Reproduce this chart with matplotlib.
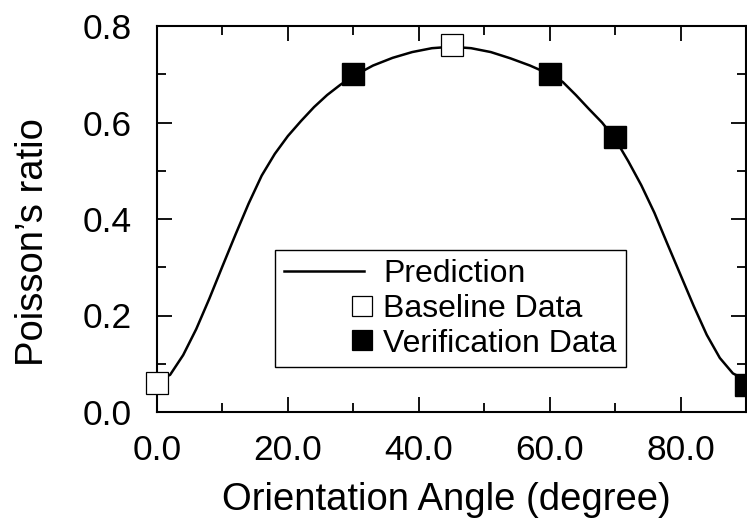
import matplotlib
matplotlib.use("Agg")
import matplotlib.pyplot as plt
from matplotlib.lines import Line2D
from matplotlib.ticker import MultipleLocator, FormatStrFormatter
from matplotlib.legend_handler import HandlerLine2D

plt.rcParams['font.family'] = ['Liberation Sans', 'DejaVu Sans']

# Prediction curve
pred_x = [0, 2, 4, 6, 8, 10, 12, 14, 16, 18, 20, 22, 24, 26, 28, 30, 33, 36,
          39, 42, 45, 48, 51, 54, 57, 60, 62, 64, 66, 68, 70, 72, 74, 76, 78,
          80, 82, 84, 86, 88, 90]
pred_y = [0.065, 0.077, 0.118, 0.172, 0.235, 0.302, 0.368, 0.432, 0.490,
          0.535, 0.572, 0.603, 0.632, 0.657, 0.678, 0.696, 0.718, 0.734,
          0.746, 0.754, 0.757, 0.754, 0.746, 0.733, 0.718, 0.700, 0.684,
          0.657, 0.628, 0.600, 0.566, 0.520, 0.470, 0.413, 0.348, 0.284,
          0.220, 0.160, 0.112, 0.080, 0.066]

# measured points
baseline_x = [0, 45]
baseline_y = [0.06, 0.76]
verif_x = [30, 60, 70, 90]
verif_y = [0.70, 0.70, 0.57, 0.055]

x_ticks = [0, 20, 40, 60, 80]
y_ticks = [0.0, 0.2, 0.4, 0.6, 0.8]


class RightMarkerHandler(HandlerLine2D):
    """Single square marker sitting at the right end of the handle slot."""

    def create_artists(self, legend, orig_handle, xdescent, ydescent,
                       width, height, fontsize, trans):
        y = (height - ydescent) / 2
        m = Line2D([width - xdescent - 0.05 * fontsize], [y], linestyle='none',
                   marker='s', markersize=14,
                   markerfacecolor=orig_handle.get_markerfacecolor(),
                   markeredgecolor='black', markeredgewidth=0.9)
        m.set_transform(trans)
        return [m]


fig = plt.figure(figsize=(7.47, 5.25), dpi=100)
ax = fig.add_axes([157 / 747, 1 - 412 / 525, (746 - 157) / 747, (412 - 26) / 525])

ax.plot(pred_x, pred_y, color='black', linewidth=1.8, label='Prediction',
        zorder=2, solid_joinstyle='round')
base_line, = ax.plot(baseline_x, baseline_y, linestyle='none', marker='s',
                     markersize=16, markerfacecolor='white',
                     markeredgecolor='black', markeredgewidth=0.9,
                     clip_on=False, zorder=3, label='Baseline Data')
verif_line, = ax.plot(verif_x, verif_y, linestyle='none', marker='s',
                      markersize=16, markerfacecolor='black',
                      markeredgecolor='black', clip_on=False, zorder=3,
                      label='Verification Data')

ax.set_xlim(0, 90)
ax.set_ylim(0, 0.8)
ax.set_xticks(x_ticks)
ax.set_yticks(y_ticks)
ax.xaxis.set_minor_locator(MultipleLocator(10))
ax.yaxis.set_minor_locator(MultipleLocator(0.1))
ax.xaxis.set_major_formatter(FormatStrFormatter('%.1f'))
ax.yaxis.set_major_formatter(FormatStrFormatter('%.1f'))

ax.tick_params(which='both', direction='in', top=True, right=True, width=1.3)
ax.tick_params(which='major', length=11, labelsize=25.5)
ax.tick_params(axis='x', which='major', pad=16)
ax.tick_params(axis='y', which='major', pad=18)
ax.tick_params(which='minor', length=6.5)
for sp in ax.spines.values():
    sp.set_linewidth(1.5)

leg = ax.legend(loc='upper left', bbox_to_anchor=(0.2007, 0.4197),
                borderaxespad=0, fontsize=23, frameon=True, fancybox=False,
                edgecolor='black', framealpha=1, handlelength=2.5,
                handletextpad=0.6, labelspacing=0.15, borderpad=0.28,
                handler_map={base_line: RightMarkerHandler(),
                             verif_line: RightMarkerHandler()})
leg.get_frame().set_linewidth(1.0)

fig.text(0.597, 1 - 510 / 525, 'Orientation Angle (degree)', fontsize=27.5,
         ha='center', va='baseline')
fig.text(33 / 747, 1 - 242 / 525, "Poisson\u2019s ratio", fontsize=27.5,
         rotation=90, ha='center', va='center')

fig.savefig('out.png', dpi=100)
